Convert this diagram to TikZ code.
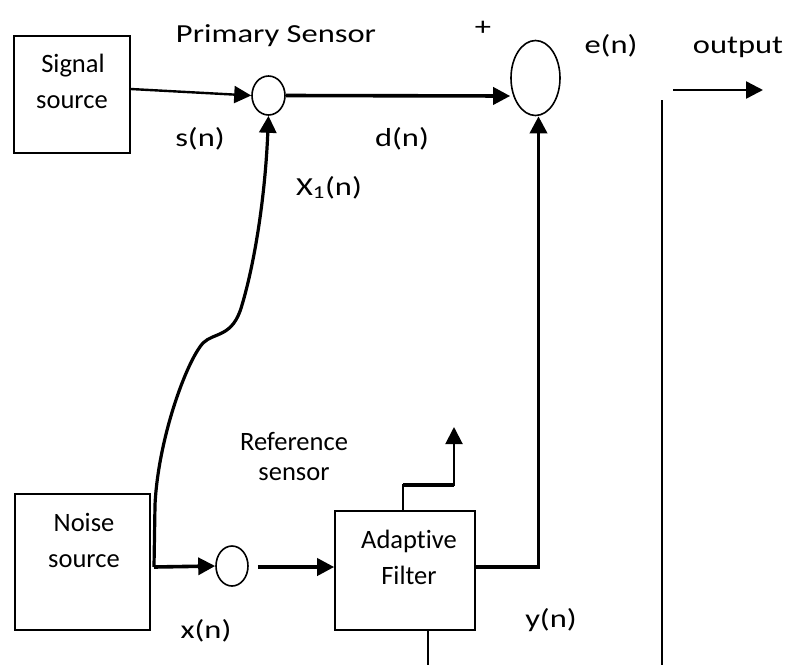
\documentclass[tikz,border=0pt]{standalone}
\usepackage{fontspec}
\setmainfont[Ligatures=NoCommon]{Carlito}
\usetikzlibrary{arrows.meta,shapes.geometric}
\begin{document}
\begin{tikzpicture}[x=1pt,y=-1pt,
  txt/.style={font=\fontsize{26.5}{30}\selectfont,anchor=base,inner sep=0pt},
  lbl/.style={font=\fontsize{26}{30}\selectfont,anchor=base,inner sep=0pt,xscale=1.25},
  blk/.style={draw,line width=1.6pt,inner sep=0pt},
  junc/.style={draw,ellipse,line width=1.6pt,inner sep=0pt},
  tip/.style={-{Triangle[length=17pt,width=17pt]}},
  sig/.style={line width=2.4pt,tip},
  bold/.style={line width=3.6pt,tip},
  thin/.style={line width=1.5pt}]
\useasboundingbox (0,0) rectangle (787,665);

% blocks
\node[blk,minimum width=116pt,minimum height=117pt] (signal) at (72,94.5) {};
\node[blk,minimum width=135pt,minimum height=136pt] (noise) at (82.5,562) {};
\node[blk,minimum width=140pt,minimum height=119pt] (filter) at (405,570.5) {};

% junctions
\node[junc,minimum width=33pt,minimum height=39pt] (prim) at (268.5,95.5) {};
\node[junc,minimum width=49pt,minimum height=75pt] (sum) at (535.5,78) {};
\node[junc,minimum width=32pt,minimum height=40pt] (ref) at (232,566) {};

% block texts
\node[txt] (t-sig1) at (73,72) {Signal};
\node[txt] (t-sig2) at (72,108) {source};
\node[txt] (t-noi1) at (84,531) {Noise};
\node[txt] (t-noi2) at (84,567) {source};
\node[txt] (t-fil1) at (409,548) {Adaptive};
\node[txt] (t-fil2) at (409,584) {Filter};
\node[txt] (t-ref1) at (294,450) {Reference};
\node[txt] (t-ref2) at (294,480) {sensor};

% signal labels
\node[lbl] (t-prim) at (276,42) {Primary Sensor};
\node[lbl] (t-plus) at (483,35) {+};
\node[lbl] (t-s) at (200,146) {s(n)};
\node[lbl] (t-d) at (402,146) {d(n)};
\node[lbl] (t-x1) at (329,195) {X\textsubscript{1}(n)};
\node[lbl] (t-e) at (611,53) {e(n)};
\node[lbl] (t-out) at (738,53) {output};
\node[lbl] (t-x) at (206,638) {x(n)};
\node[lbl] (t-y) at (551,627) {y(n)};

% free ends
\coordinate (nsplit) at (154,567);
\coordinate (outA) at (673,90);
\coordinate (outB) at (763,90);
\coordinate (upA) at (403,485);
\coordinate (upB) at (454,427);
\coordinate (sepTop) at (662,100);
\coordinate (sepBot) at (662,665);
\coordinate (filBot) at (428,665);

% primary path
\draw[sig] ([yshift=5.5pt]signal.east) -- (prim.west);
\draw[bold] (prim.east) -- ([yshift=-18pt]sum.west);
\draw[bold] ([yshift=3.5pt]filter.east) -| ([xshift=3pt]sum.south);

% noise path to the primary sensor
\draw[line width=3.2pt,tip] (nsplit) -- (155,505)
  .. controls (158,440) and (186,362) .. (203,343)
  .. controls (214,332) and (233,338) .. (242,305)
  .. controls (254,265) and (265,200) .. (prim.south);

% reference path
\draw[bold] (nsplit) -- (ref.west);
\draw[bold] ([xshift=9pt,yshift=-1pt]ref.east) -- ([yshift=3.5pt]filter.west);

% filter output (weight update tap)
\draw[line width=2pt,tip] (upA |- filter.north) -- (upA) -- (upA -| upB) -- (upB);
\draw[line width=4pt] (upA) -- (upA -| upB);

% output arrow and separators
\draw[sig] (outA) -- (outB);
\draw[thin] (sepTop) -- (sepBot);
\draw[thin] (filBot |- filter.south) -- (filBot);
\end{tikzpicture}
\end{document}
